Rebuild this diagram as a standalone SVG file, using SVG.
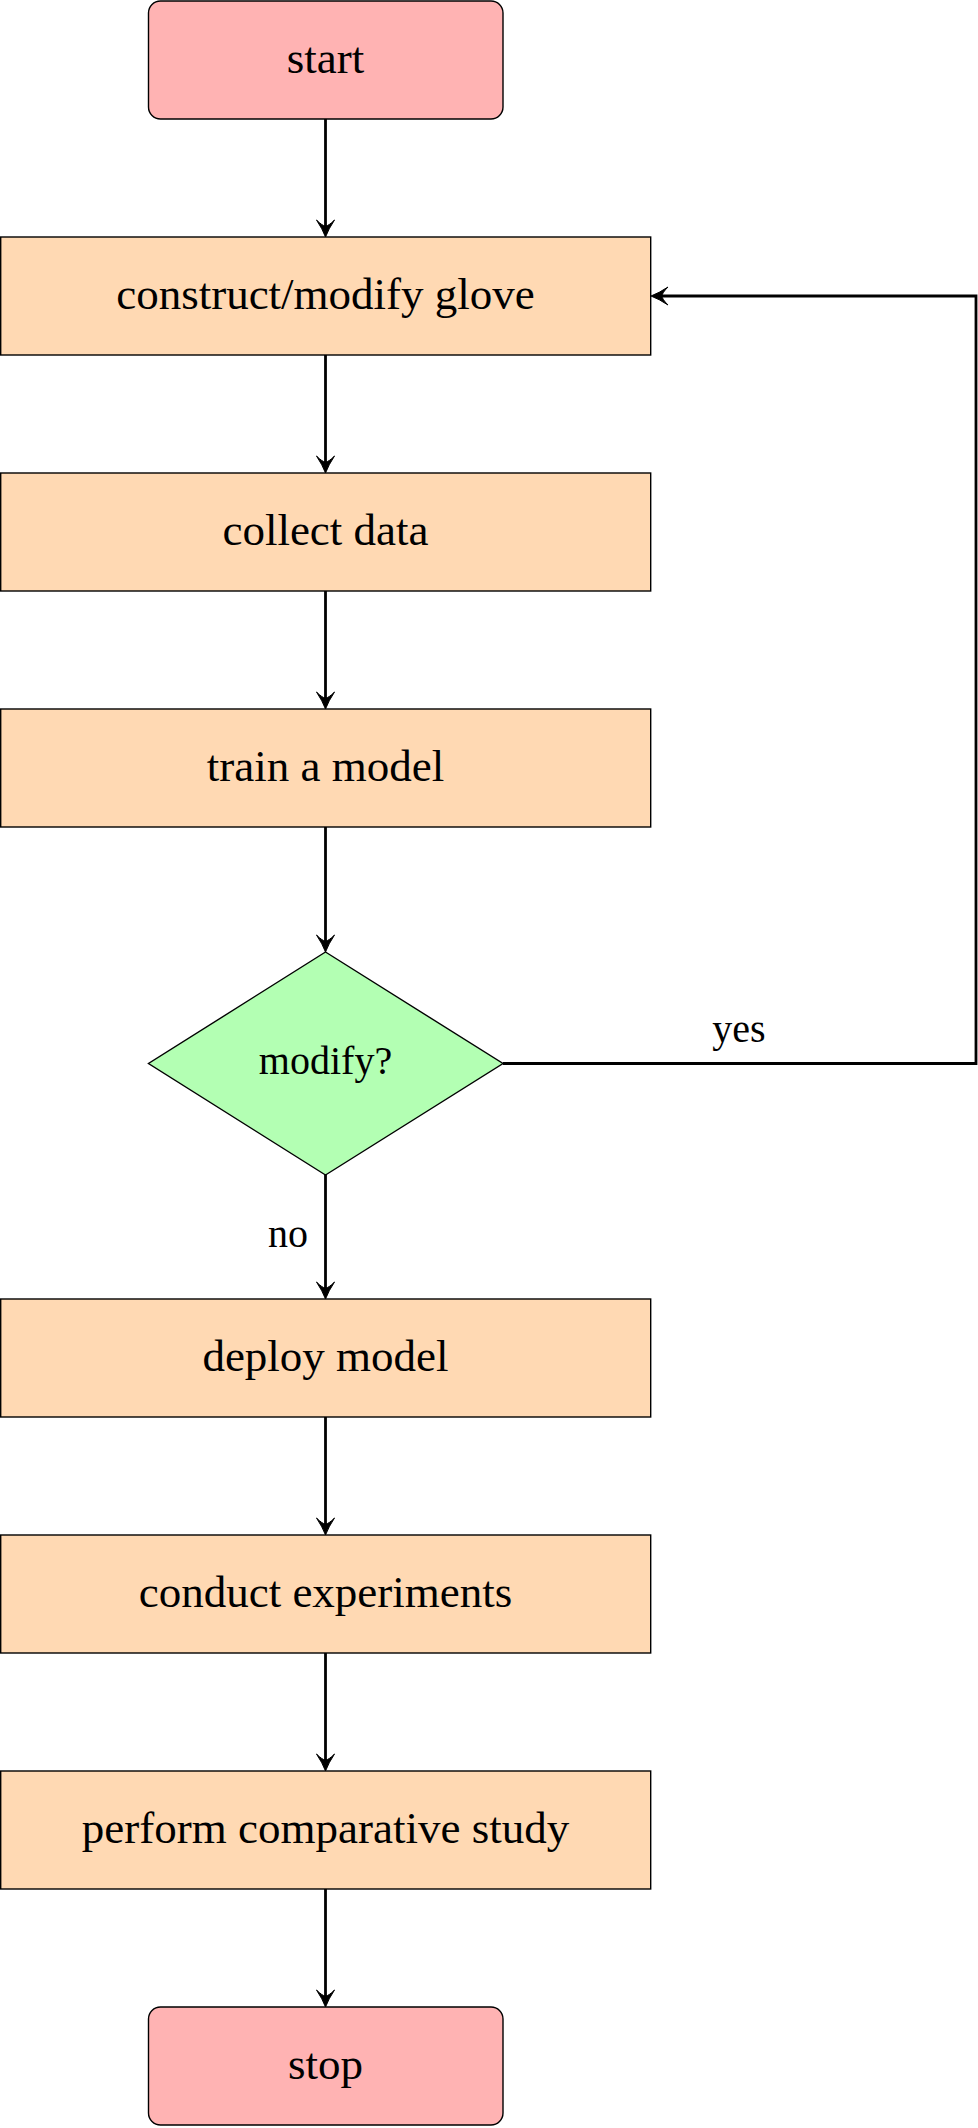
<svg xmlns="http://www.w3.org/2000/svg" width="978" height="2128" viewBox="0 0 978 2128">
<style>
.term{fill:#ffb3b3;stroke:#000;stroke-width:1.4}
.proc{fill:#ffd9b3;stroke:#000;stroke-width:1.4}
.dec{fill:#b3ffb3;stroke:#000;stroke-width:1.4}
.lbl{font-family:"Liberation Serif","DejaVu Serif",serif;font-size:45px;fill:#000;text-anchor:middle}
.small{font-size:40px}
.conn{fill:none;stroke:#000;stroke-width:2.8}
</style>
<defs>
<marker id="arr" viewBox="-20 -11 22 22" markerWidth="22" markerHeight="22" refX="-10" refY="0" orient="auto" markerUnits="userSpaceOnUse">
<path d="M0,0 Q-8,-3 -17,-9 Q-11,-3 -11,0 Q-11,3 -17,9 Q-8,3 0,0 Z" fill="#000" stroke="#000" stroke-width="1" stroke-linejoin="round"/>
</marker>
</defs>
<rect width="978" height="2128" fill="#fff"/>
<g id="connectors">
<path class="conn" d="M325.5,119 V227" marker-end="url(#arr)"/>
<path class="conn" d="M325.5,355 V463" marker-end="url(#arr)"/>
<path class="conn" d="M325.5,591 V699" marker-end="url(#arr)"/>
<path class="conn" d="M325.5,827 V942" marker-end="url(#arr)"/>
<path class="conn" d="M325.5,1175 V1289" marker-end="url(#arr)"/>
<path class="conn" d="M325.5,1417 V1525" marker-end="url(#arr)"/>
<path class="conn" d="M325.5,1653 V1761" marker-end="url(#arr)"/>
<path class="conn" d="M325.5,1889 V1997" marker-end="url(#arr)"/>
<path class="conn" d="M503,1063.5 H976 V296 H661" marker-end="url(#arr)"/>
<text class="lbl small" x="739" y="1042">yes</text>
<text class="lbl small" x="288" y="1247">no</text>
</g>
<g id="start">
<rect class="term" x="148.5" y="1" width="354.5" height="118" rx="12"/>
<text class="lbl" x="325.5" y="73">start</text>
</g>
<g id="construct">
<rect class="proc" x="0.7" y="237" width="650" height="118"/>
<text class="lbl" x="325.5" y="309">construct/modify glove</text>
</g>
<g id="collect">
<rect class="proc" x="0.7" y="473" width="650" height="118"/>
<text class="lbl" x="325.5" y="545">collect data</text>
</g>
<g id="train">
<rect class="proc" x="0.7" y="709" width="650" height="118"/>
<text class="lbl" x="325.5" y="781">train a model</text>
</g>
<g id="modify">
<polygon class="dec" points="325.5,952 503,1063.5 325.5,1175 148.5,1063.5"/>
<text class="lbl small" x="325.5" y="1074">modify?</text>
</g>
<g id="deploy">
<rect class="proc" x="0.7" y="1299" width="650" height="118"/>
<text class="lbl" x="325.5" y="1371">deploy model</text>
</g>
<g id="conduct">
<rect class="proc" x="0.7" y="1535" width="650" height="118"/>
<text class="lbl" x="325.5" y="1607">conduct experiments</text>
</g>
<g id="perform">
<rect class="proc" x="0.7" y="1771" width="650" height="118"/>
<text class="lbl" x="325.5" y="1843">perform comparative study</text>
</g>
<g id="stop">
<rect class="term" x="148.5" y="2007" width="354.5" height="118" rx="12"/>
<text class="lbl" x="325.5" y="2079">stop</text>
</g>
</svg>
